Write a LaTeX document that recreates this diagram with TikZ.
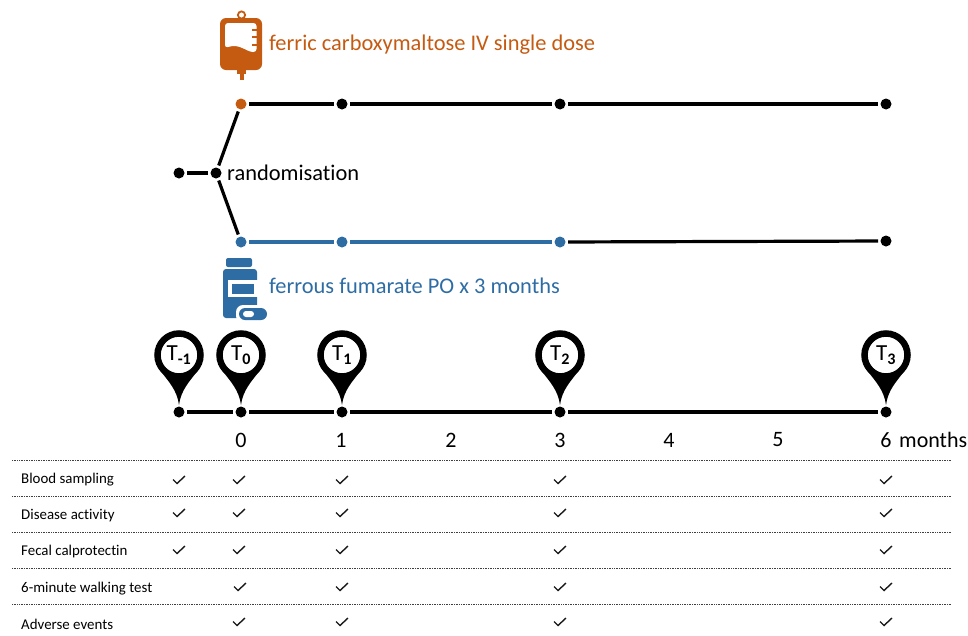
\documentclass[tikz,border=0pt]{standalone}
\usepackage{fontspec}
\setmainfont{Carlito}[Ligatures=CommonOff]
\usepackage{tikz}
\usetikzlibrary{positioning}
\definecolor{ironorange}{RGB}{197,90,17}
\definecolor{ironblue}{RGB}{46,108,164}
\tikzset{
  dot/.style={circle, fill=black, inner sep=0pt, minimum size=11, outer sep=2.5},
  seg/.style={line width=3.2},
  pinhead/.style={circle, draw=black, fill=white, line width=6.5, inner sep=0pt, minimum size=43, font=\fontsize{23}{26}\selectfont},
  bigtext/.style={inner sep=0pt, anchor=west, font=\fontsize{22.4}{26}\selectfont},
  tick/.style={inner sep=0pt, font=\fontsize{22}{26}\selectfont},
  rowtext/.style={inner sep=0pt, anchor=west, font=\fontsize{14.9}{18}\selectfont},
  rowline/.style={dash pattern=on 0.8pt off 0.9pt, line width=0.9, black!75},
  chk/.style={line width=1.4, black!90}
}
\begin{document}
\begin{tikzpicture}[x=1pt, y=-1pt]
  \useasboundingbox (0,0) rectangle (968,635);

  % Perfusion
  \fill[ironorange, rounded corners=6] (220,18) rectangle (262,70);
  \draw[ironorange, line width=1.8] (241.5,15) circle (3.6);
  \fill[ironorange] (237,69) rectangle (246,74);
  \fill[ironorange] (239.5,73) rectangle (243.7,80);
  \fill[white, rounded corners=3] (225,23) -- (256.5,23) -- (256.5,52) .. controls (246,52) and (240,43) .. (225,48) -- cycle;
  \foreach \y in {30,37,45} {
      \fill[ironorange] (251.5,\y-1.2) rectangle (257,\y+1.2);
  }
  \node[bigtext, text=ironorange] (ferric) at (269,45) {ferric carboxymaltose IV single dose};

  % Randomisation
  \node[dot] (start) at (179,173) {};
  \node[dot] (rand) at (216,173) {};
  \node[bigtext] (randlabel) at (227,173) {randomisation};
  \draw[seg] (start) -- (rand);

  % Upper arm
  \node[dot, fill=ironorange] (up0) at (241,104) {};
  \node[dot] (up1) at (342,104) {};
  \node[dot] (up3) at (560,104) {};
  \node[dot] (up6) at (886,104) {};
  \draw[seg] (rand) -- (up0);
  \draw[seg] (up0) -- (up1);
  \draw[seg] (up1) -- (up3);
  \draw[seg] (up3) -- (up6);

  % Lower arm
  \node[dot, fill=ironblue] (low0) at (241,242) {};
  \node[dot, fill=ironblue] (low1) at (342,242) {};
  \node[dot, fill=ironblue] (low3) at (560,242) {};
  \node[dot] (low6) at (886,241) {};
  \draw[seg] (rand) -- (low0);
  \draw[seg, ironblue] (low0) -- (low1);
  \draw[seg, ironblue] (low1) -- (low3);
  \draw[seg] (low3) -- (low6);

  % Pills
  \fill[ironblue, rounded corners=2] (226,258) rectangle (252,267);
  \fill[ironblue, rounded corners=3] (223,269) rectangle (257,318);
  \fill[white] (228,280) rectangle (258,297);
  \fill[ironblue] (232,284) rectangle (254,294);
  \fill[white, rounded corners=7] (236,305) rectangle (270,323);
  \fill[ironblue, rounded corners=6] (239,308) rectangle (267,320);
  \fill[white, rounded corners=3] (243,311) rectangle (254,317);
  \node[bigtext, text=ironblue] (ferrous) at (269,286) {ferrous fumarate PO x 3 months};

  % Timeline
  \foreach \x/\n/\s in {179/a/{-1}, 241/b/0, 342/c/1, 560/d/2, 886/e/3} {
      \fill (\x-20,369) .. controls (\x-10,382) and (\x-2,390) .. (\x,405) .. controls (\x+2,390) and (\x+10,382) .. (\x+20,369) -- cycle;
      \node[pinhead] (pin\n) at (\x,355) {\raisebox{-1.5pt}{T\textsubscript{\textbf{\s}}}};
      \node[dot] (time\n) at (\x,412) {};
  }
  \draw[seg] (timea) -- (timeb);
  \draw[seg] (timeb) -- (timec);
  \draw[seg] (timec) -- (timed);
  \draw[seg] (timed) -- (timee);

  % Months
  \foreach \x/\m in {241/0, 341/1, 451/2, 560/3, 669/4, 778/5, 886/6} {
      \node[tick] (month\m) at (\x,440) {\m};
  }
  \node[tick, anchor=west] (months) at (899,440) {months};

  % Assessments
  \foreach \y in {460,496,532,568,604} {
      \draw[rowline] (12,\y) -- (952,\y);
  }
  \node[rowtext] (blood) at (21,479.5) {Blood sampling};
  \node[rowtext] (disease) at (21,515.5) {Disease activity};
  \node[rowtext] (fecal) at (21,551.5) {Fecal calprotectin};
  \node[rowtext] (walk) at (21,588.5) {6-minute walking test};
  \node[rowtext] (adverse) at (21,624.5) {Adverse events};

  \foreach \x/\y in {179/480, 179/513, 179/550,
                     239/480, 239/513, 239/550, 240/587, 239/622,
                     342/480, 342/513, 342/550, 342/587, 342/622,
                     560/480, 560/513, 560/550, 560/587, 560/622,
                     886/480, 886/513, 886/550, 886/587, 886/622} {
      \draw[chk] (\x-6,\y-0.5) -- (\x-2,\y+3.5) -- (\x+6,\y-4);
  }
\end{tikzpicture}
\end{document}
